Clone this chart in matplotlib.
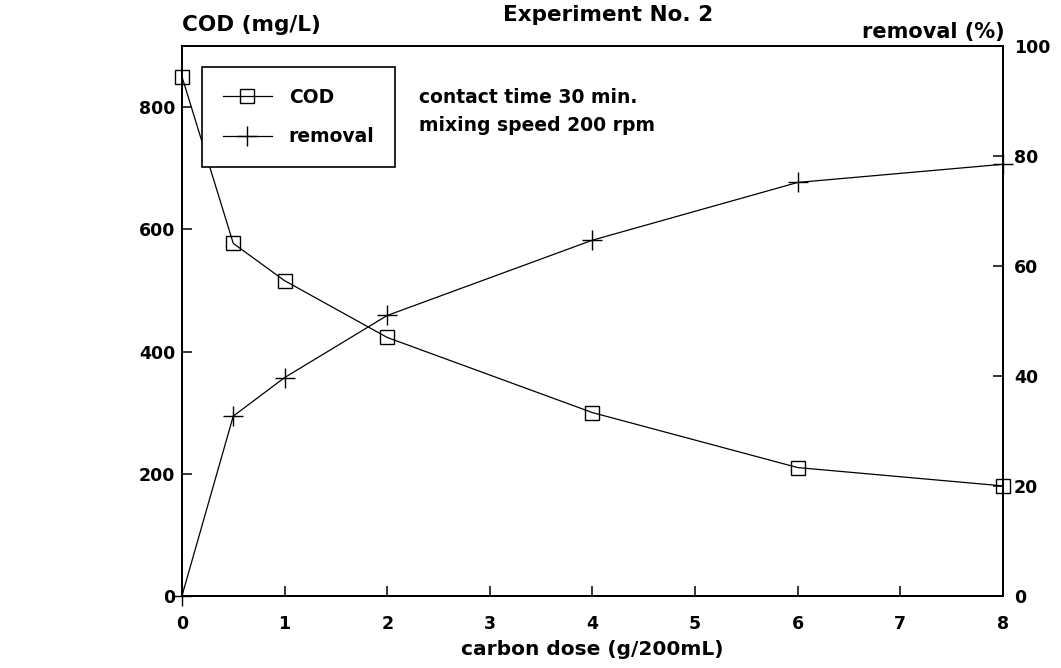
import matplotlib.pyplot as plt

plt.rcParams['font.family'] = ['DejaVu Sans']
plt.rcParams['font.weight'] = 'bold'

# carbon dose (g/200mL)
dose = [0, 0.5, 1, 2, 4, 6, 8]
cod = [850, 577, 516, 423, 300, 210, 180]
removal = [0, 32.7, 39.7, 51.0, 64.7, 75.2, 78.5]

x_ticks = [0, 1, 2, 3, 4, 5, 6, 7, 8]
cod_ticks = [0, 200, 400, 600, 800]
rem_ticks = [0, 20, 40, 60, 80, 100]

fig = plt.figure(figsize=(10.61, 6.68), dpi=100)
ax = fig.add_axes([0.1715, 0.108, 0.7738, 0.823])
ax2 = ax.twinx()

l1, = ax.plot(dose, cod, color='black', lw=0.9, marker='s', ms=10,
              mfc='none', mec='black', mew=1.0, label='COD', clip_on=False)
l2, = ax2.plot(dose, removal, color='black', lw=0.9, marker='+', ms=15,
               mew=1.0, label='removal', clip_on=False)

ax.set_xlim(0, 8)
ax.set_ylim(0, 900)
ax2.set_ylim(0, 100)
ax.set_xticks(x_ticks)
ax.set_yticks(cod_ticks)
ax2.set_yticks(rem_ticks)

for a in (ax, ax2):
    for s in a.spines.values():
        s.set_linewidth(1.3)
    a.tick_params(direction='in', length=7, width=1.1, labelsize=12.5)
ax.tick_params(axis='y', pad=5)
ax.tick_params(axis='x', pad=14)
ax2.tick_params(axis='y', pad=8)

ax.set_xlabel('carbon dose (g/200mL)', fontsize=14.5, fontweight='bold', labelpad=5)

fig.text(0.172, 0.962, 'COD (mg/L)', fontsize=15.5, fontweight='bold',
         ha='left', va='center')
fig.text(0.573, 0.977, 'Experiment No. 2', fontsize=15.5, fontweight='bold',
         ha='center', va='center')
fig.text(0.947, 0.952, 'removal (%)', fontsize=15, fontweight='bold',
         ha='right', va='center')

ax.text(0.289, 0.907, 'contact time 30 min.', transform=ax.transAxes,
        fontsize=13.5, fontweight='bold', va='center', ha='left')
ax.text(0.289, 0.855, 'mixing speed 200 rpm', transform=ax.transAxes,
        fontsize=13.5, fontweight='bold', va='center', ha='left')

leg = ax2.legend(handles=[l1, l2], loc='upper left',
                 bbox_to_anchor=(0.025, 0.962), fancybox=False,
                 framealpha=1, edgecolor='black', fontsize=13.5,
                 handlelength=2.6, borderpad=1.1, labelspacing=1.1,
                 handletextpad=0.9, borderaxespad=0)
leg.get_frame().set_linewidth(1.2)

plt.savefig('out.png', dpi=100)
